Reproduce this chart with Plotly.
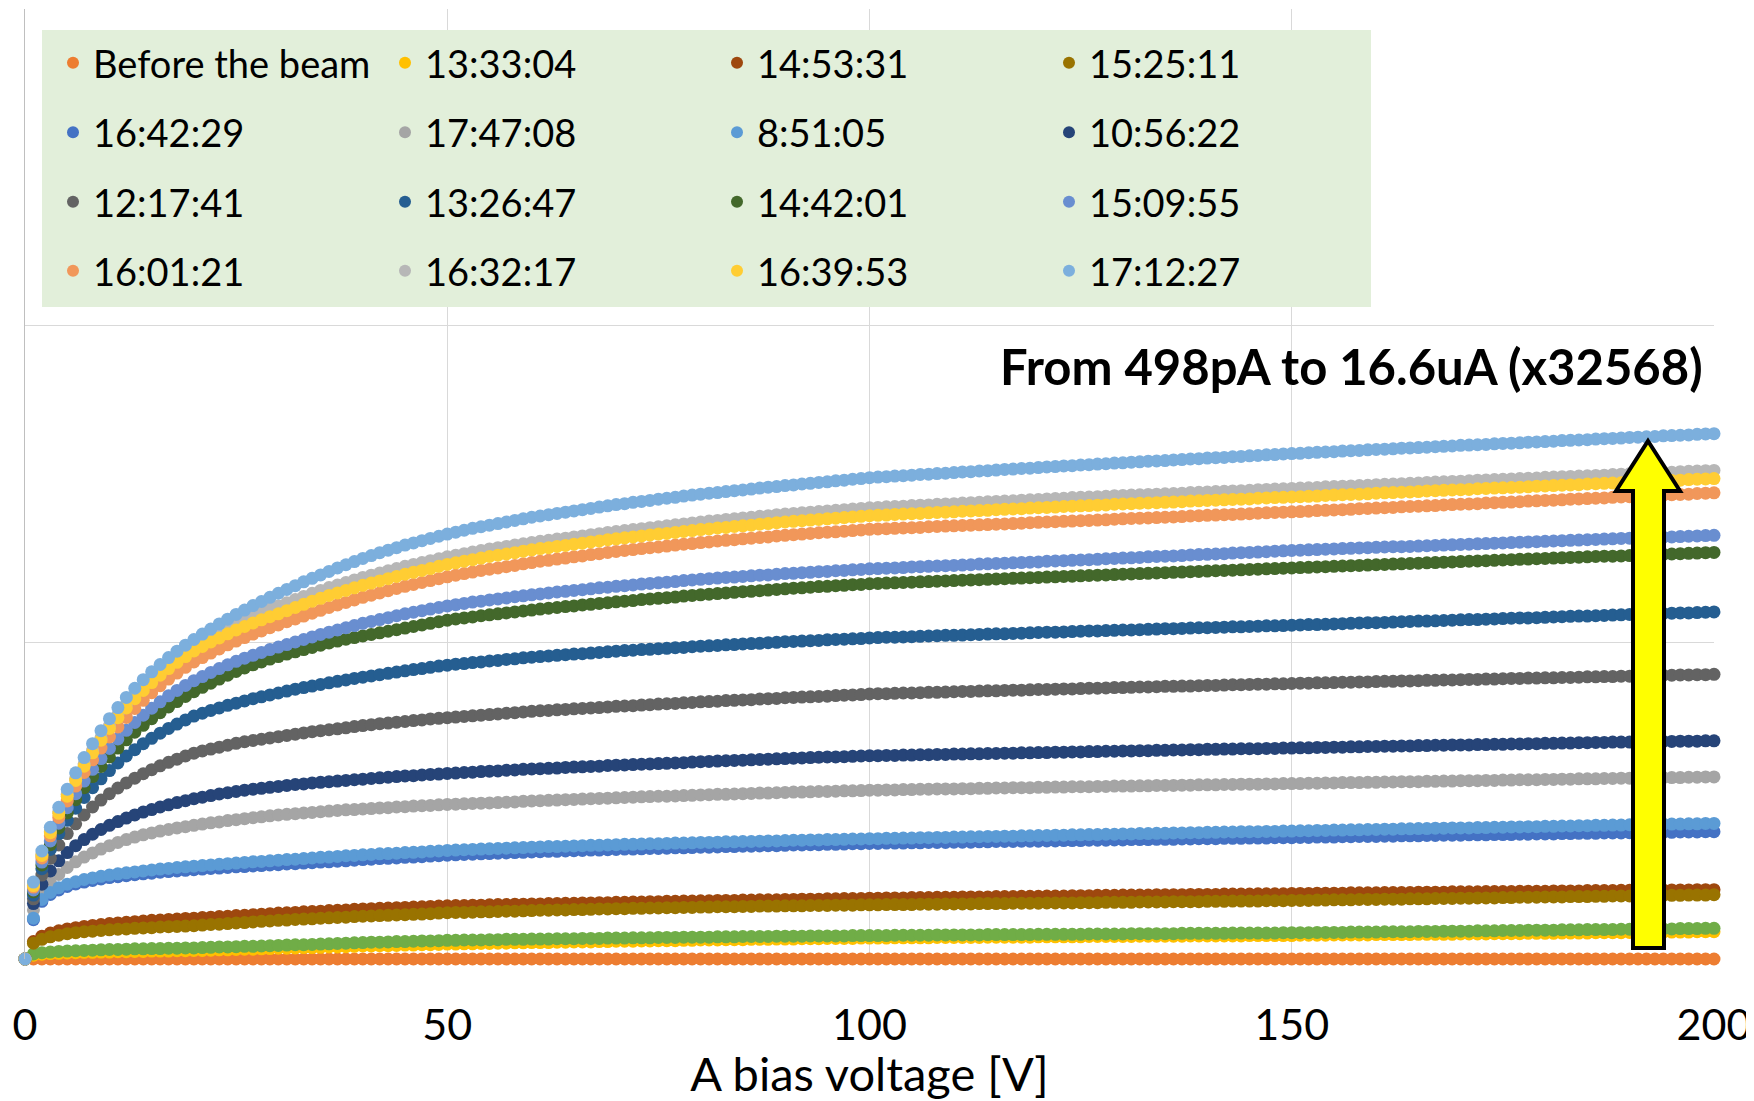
import plotly.graph_objects as go

# ---------------- data (current in uA, bias in V) ----------------
bias_voltage = list(range(0, 201))
x_ticks = [0, 50, 100, 150, 200]

i_before_beam = [0.0,
 0.0001,0.0001,0.0001,0.0001,0.0001,0.0001,0.0001,0.0001,0.0001,0.0001,0.0001,0.0001,0.0001,0.0001,0.0001,0.0001,0.0001,0.0001,0.0001,0.0001,0.0001,0.0001,0.0001,0.0001,0.0001,
 0.0002,0.0002,0.0002,0.0002,0.0002,0.0002,0.0002,0.0002,0.0002,0.0002,0.0002,0.0002,0.0002,0.0002,0.0002,0.0002,0.0002,0.0002,0.0002,0.0002,0.0002,0.0002,0.0002,0.0002,0.0002,
 0.0002,0.0002,0.0002,0.0002,0.0002,0.0002,0.0002,0.0002,0.0002,0.0002,0.0002,0.0002,0.0002,0.0002,0.0002,0.0002,0.0002,0.0002,0.0002,0.0002,0.0002,0.0002,0.0002,0.0002,0.0002,
 0.0003,0.0003,0.0003,0.0003,0.0003,0.0003,0.0003,0.0003,0.0003,0.0003,0.0003,0.0003,0.0003,0.0003,0.0003,0.0003,0.0003,0.0003,0.0003,0.0003,0.0003,0.0003,0.0003,0.0003,0.0003,
 0.0003,0.0003,0.0003,0.0003,0.0003,0.0003,0.0003,0.0003,0.0003,0.0003,0.0003,0.0003,0.0003,0.0003,0.0003,0.0003,0.0003,0.0003,0.0003,0.0003,0.0003,0.0003,0.0003,0.0003,0.0003,
 0.0004,0.0004,0.0004,0.0004,0.0004,0.0004,0.0004,0.0004,0.0004,0.0004,0.0004,0.0004,0.0004,0.0004,0.0004,0.0004,0.0004,0.0004,0.0004,0.0004,0.0004,0.0004,0.0004,0.0004,0.0004,
 0.0004,0.0004,0.0004,0.0004,0.0004,0.0004,0.0004,0.0004,0.0004,0.0004,0.0004,0.0004,0.0004,0.0004,0.0004,0.0004,0.0004,0.0004,0.0004,0.0004,0.0004,0.0004,0.0004,0.0004,0.0004,
 0.0005,0.0005,0.0005,0.0005,0.0005,0.0005,0.0005,0.0005,0.0005,0.0005,0.0005,0.0005,0.0005,0.0005,0.0005,0.0005,0.0005,0.0005,0.0005,0.0005,0.0005,0.0005,0.0005,0.0005,0.000498]

i_133304 = [0.0,
 0.12,0.15,0.17,0.18,0.19,0.20,0.21,0.21,0.22,0.22,0.23,0.23,0.24,0.24,0.25,0.25,0.25,0.26,0.26,0.27,
 0.27,0.28,0.29,0.29,0.30,0.31,0.31,0.32,0.33,0.34,
 0.34,0.35,0.36,0.36,0.37,0.38,0.38,0.39,0.40,0.41,
 0.41,0.42,0.42,0.43,0.44,0.44,0.45,0.45,0.46,0.47,
 0.47,0.48,0.48,0.49,0.49,0.50,0.50,0.51,0.51,0.52,
 0.52,0.52,0.53,0.53,0.54,0.54,0.54,0.55,0.55,0.56,
 0.56,0.56,0.57,0.57,0.58,0.58,0.58,0.59,0.59,0.60,
 0.60,0.60,0.61,0.61,0.61,0.62,0.62,0.62,0.63,0.63,
 0.63,0.64,0.64,0.64,0.65,0.65,0.65,0.65,0.66,0.66,
 0.66,0.66,0.67,0.67,0.67,0.67,0.67,0.68,0.68,0.68,0.68,0.68,0.68,0.69,0.69,0.69,0.69,0.69,0.69,0.70,0.70,0.70,0.70,0.70,0.70,
 0.71,0.71,0.71,0.71,0.71,0.71,0.72,0.72,0.72,0.72,0.72,0.72,0.73,0.73,0.73,0.73,0.73,0.73,0.73,0.74,0.74,0.74,0.74,0.74,0.74,
 0.75,0.75,0.75,0.75,0.76,0.76,0.76,0.76,0.76,0.77,0.77,0.77,0.77,0.77,0.78,0.78,0.78,0.78,0.78,0.79,0.79,0.79,0.79,0.80,0.80,
 0.80,0.80,0.81,0.81,0.81,0.81,0.82,0.82,0.82,0.82,0.83,0.83,0.83,0.83,0.84,0.84,0.84,0.84,0.85,0.85,0.85,0.85,0.86,0.86,0.86]

i_unlabelled_green = [0.0,
 0.16,0.20,0.22,0.24,0.25,0.26,0.27,0.28,0.29,0.30,0.30,0.31,0.32,0.32,0.33,0.33,0.34,0.34,0.35,0.35,
 0.36,0.37,0.38,0.38,0.39,0.40,0.40,0.41,0.42,0.43,
 0.44,0.45,0.45,0.46,0.47,0.48,0.49,0.50,0.51,0.52,
 0.53,0.53,0.54,0.55,0.55,0.56,0.57,0.57,0.58,0.59,
 0.59,0.60,0.60,0.60,0.61,0.61,0.62,0.62,0.62,0.63,
 0.63,0.63,0.64,0.64,0.64,0.65,0.65,0.65,0.66,0.66,
 0.66,0.67,0.67,0.67,0.68,0.68,0.68,0.69,0.69,0.69,
 0.69,0.70,0.70,0.70,0.71,0.71,0.71,0.71,0.72,0.72,
 0.72,0.72,0.73,0.73,0.73,0.73,0.73,0.74,0.74,0.74,
 0.74,0.74,0.75,0.75,0.75,0.75,0.75,0.76,0.76,0.76,0.76,0.76,0.76,0.77,0.77,0.77,0.77,0.77,0.77,0.78,0.78,0.78,0.78,0.78,0.78,
 0.79,0.79,0.79,0.79,0.79,0.80,0.80,0.80,0.80,0.80,0.80,0.81,0.81,0.81,0.81,0.81,0.81,0.82,0.82,0.82,0.82,0.82,0.82,0.83,0.83,
 0.83,0.83,0.84,0.84,0.84,0.84,0.85,0.85,0.85,0.85,0.86,0.86,0.86,0.86,0.87,0.87,0.87,0.88,0.88,0.88,0.88,0.89,0.89,0.89,0.90,
 0.90,0.90,0.91,0.91,0.91,0.91,0.92,0.92,0.92,0.93,0.93,0.93,0.93,0.94,0.94,0.94,0.95,0.95,0.95,0.95,0.96,0.96,0.96,0.97,0.97]

i_145331 = [0.0,
 0.55,0.72,0.82,0.89,0.95,0.99,1.03,1.06,1.09,1.12,1.14,1.16,1.18,1.20,1.22,1.23,1.25,1.26,1.28,1.29,
 1.31,1.32,1.34,1.35,1.37,1.38,1.40,1.41,1.43,1.45,
 1.46,1.47,1.49,1.50,1.51,1.53,1.54,1.55,1.57,1.58,
 1.59,1.60,1.61,1.62,1.63,1.64,1.65,1.66,1.67,1.68,
 1.69,1.69,1.70,1.70,1.71,1.72,1.72,1.73,1.73,1.74,
 1.74,1.75,1.75,1.76,1.76,1.77,1.77,1.78,1.78,1.79,
 1.79,1.80,1.80,1.81,1.81,1.82,1.82,1.83,1.83,1.84,
 1.84,1.85,1.85,1.85,1.86,1.86,1.87,1.87,1.87,1.88,
 1.88,1.89,1.89,1.89,1.90,1.90,1.91,1.91,1.91,1.92,
 1.92,1.93,1.93,1.93,1.94,1.94,1.94,1.95,1.95,1.95,1.96,1.96,1.96,1.96,1.97,1.97,1.97,1.98,1.98,1.98,1.99,1.99,1.99,2.00,2.00,
 2.00,2.01,2.01,2.01,2.02,2.02,2.02,2.02,2.03,2.03,2.03,2.03,2.04,2.04,2.04,2.04,2.05,2.05,2.05,2.05,2.06,2.06,2.06,2.06,2.07,
 2.07,2.07,2.08,2.08,2.08,2.08,2.09,2.09,2.09,2.09,2.10,2.10,2.10,2.10,2.11,2.11,2.11,2.11,2.12,2.12,2.12,2.12,2.13,2.13,2.13,
 2.13,2.14,2.14,2.14,2.14,2.15,2.15,2.15,2.15,2.16,2.16,2.16,2.16,2.17,2.17,2.17,2.17,2.17,2.18,2.18,2.18,2.18,2.19,2.19,2.19]

i_152511 = [0.0,
 0.50,0.62,0.70,0.75,0.80,0.83,0.86,0.88,0.90,0.92,0.94,0.95,0.97,0.98,0.99,1.01,1.02,1.03,1.04,1.05,
 1.07,1.09,1.10,1.12,1.14,1.15,1.17,1.19,1.20,1.22,
 1.23,1.25,1.26,1.27,1.29,1.30,1.31,1.32,1.34,1.35,
 1.36,1.37,1.38,1.39,1.40,1.41,1.42,1.43,1.45,1.46,
 1.47,1.47,1.48,1.49,1.49,1.50,1.51,1.51,1.52,1.53,
 1.54,1.54,1.55,1.55,1.56,1.56,1.57,1.58,1.58,1.59,
 1.59,1.60,1.60,1.61,1.61,1.62,1.62,1.63,1.63,1.64,
 1.64,1.65,1.65,1.65,1.66,1.66,1.67,1.67,1.67,1.68,
 1.68,1.68,1.69,1.69,1.69,1.70,1.70,1.70,1.71,1.71,
 1.71,1.72,1.72,1.72,1.72,1.73,1.73,1.73,1.74,1.74,1.74,1.74,1.75,1.75,1.75,1.75,1.76,1.76,1.76,1.76,1.77,1.77,1.77,1.77,1.78,
 1.78,1.78,1.79,1.79,1.79,1.79,1.80,1.80,1.80,1.80,1.81,1.81,1.81,1.81,1.82,1.82,1.82,1.83,1.83,1.83,1.83,1.84,1.84,1.84,1.85,
 1.85,1.85,1.86,1.86,1.87,1.87,1.87,1.88,1.88,1.88,1.89,1.89,1.89,1.90,1.90,1.90,1.91,1.91,1.91,1.92,1.92,1.93,1.93,1.93,1.94,
 1.94,1.95,1.95,1.95,1.96,1.96,1.96,1.97,1.97,1.97,1.98,1.98,1.99,1.99,1.99,2.00,2.00,2.00,2.01,2.01,2.01,2.02,2.02,2.02,2.03]

i_164229 = [0.0,
 1.24,1.82,2.04,2.18,2.29,2.37,2.43,2.48,2.53,2.57,2.60,2.63,2.66,2.69,2.71,2.74,2.76,2.78,2.80,2.82,
 2.84,2.86,2.87,2.89,2.91,2.92,2.94,2.95,2.97,2.98,
 3.00,3.01,3.03,3.04,3.06,3.07,3.09,3.10,3.12,3.14,
 3.15,3.17,3.18,3.19,3.21,3.22,3.23,3.25,3.26,3.28,
 3.29,3.30,3.31,3.32,3.33,3.34,3.35,3.36,3.37,3.38,
 3.39,3.40,3.40,3.41,3.42,3.43,3.44,3.44,3.45,3.46,
 3.47,3.47,3.48,3.49,3.49,3.50,3.51,3.51,3.52,3.53,
 3.53,3.54,3.55,3.55,3.56,3.56,3.57,3.58,3.58,3.59,
 3.60,3.60,3.61,3.61,3.62,3.62,3.63,3.64,3.64,3.65,
 3.65,3.66,3.66,3.66,3.67,3.67,3.68,3.68,3.68,3.69,3.69,3.69,3.70,3.70,3.71,3.71,3.71,3.72,3.72,3.72,3.73,3.73,3.74,3.74,3.74,
 3.75,3.75,3.75,3.76,3.76,3.77,3.77,3.77,3.78,3.78,3.78,3.79,3.79,3.80,3.80,3.80,3.81,3.81,3.81,3.82,3.82,3.82,3.83,3.83,3.83,
 3.84,3.84,3.85,3.85,3.85,3.86,3.86,3.87,3.87,3.87,3.88,3.88,3.89,3.89,3.89,3.90,3.90,3.91,3.91,3.91,3.92,3.92,3.92,3.93,3.93,
 3.93,3.94,3.94,3.95,3.95,3.95,3.96,3.96,3.97,3.97,3.97,3.98,3.98,3.98,3.99,3.99,3.99,4.00,4.00,4.00,4.01,4.01,4.01,4.02,4.02]

i_174708 = [0.0,
 1.55,2.05,2.40,2.67,2.89,3.07,3.22,3.35,3.47,3.58,3.68,3.77,3.85,3.92,3.98,4.04,4.09,4.14,4.18,4.22,
 4.26,4.30,4.33,4.37,4.40,4.43,4.46,4.49,4.52,4.55,
 4.57,4.59,4.61,4.63,4.65,4.67,4.69,4.71,4.72,4.74,
 4.75,4.77,4.78,4.80,4.81,4.83,4.84,4.85,4.87,4.88,
 4.89,4.90,4.91,4.92,4.93,4.94,4.95,4.96,4.98,4.99,
 5.00,5.01,5.02,5.03,5.04,5.05,5.06,5.07,5.08,5.09,
 5.10,5.11,5.12,5.13,5.14,5.14,5.15,5.16,5.17,5.18,
 5.19,5.20,5.20,5.21,5.22,5.23,5.24,5.24,5.25,5.26,
 5.27,5.27,5.28,5.29,5.29,5.30,5.31,5.31,5.32,5.33,
 5.33,5.34,5.34,5.35,5.35,5.36,5.36,5.37,5.37,5.37,5.38,5.38,5.39,5.39,5.40,5.40,5.41,5.41,5.41,5.42,5.42,5.43,5.43,5.44,5.44,
 5.44,5.45,5.45,5.46,5.46,5.46,5.47,5.47,5.48,5.48,5.48,5.49,5.49,5.50,5.50,5.50,5.51,5.51,5.52,5.52,5.52,5.53,5.53,5.54,5.54,
 5.54,5.55,5.55,5.56,5.56,5.57,5.57,5.57,5.58,5.58,5.59,5.59,5.60,5.60,5.60,5.61,5.61,5.62,5.62,5.63,5.63,5.63,5.64,5.64,5.65,
 5.65,5.66,5.66,5.66,5.67,5.67,5.68,5.68,5.69,5.69,5.69,5.70,5.70,5.71,5.71,5.71,5.72,5.72,5.73,5.73,5.73,5.74,5.74,5.75,5.75]

i_085105 = [0.0,
 1.29,1.88,2.10,2.25,2.36,2.44,2.51,2.56,2.61,2.65,2.69,2.72,2.75,2.78,2.81,2.84,2.86,2.89,2.91,2.93,
 2.95,2.97,2.99,3.01,3.03,3.05,3.07,3.08,3.10,3.12,
 3.14,3.15,3.17,3.19,3.21,3.22,3.24,3.26,3.27,3.29,
 3.30,3.32,3.33,3.34,3.36,3.37,3.38,3.40,3.41,3.43,
 3.44,3.45,3.46,3.47,3.48,3.49,3.50,3.51,3.52,3.53,
 3.54,3.55,3.55,3.56,3.57,3.58,3.59,3.59,3.60,3.61,
 3.62,3.62,3.63,3.64,3.64,3.65,3.66,3.66,3.67,3.68,
 3.68,3.69,3.70,3.70,3.71,3.71,3.72,3.73,3.73,3.74,
 3.75,3.75,3.76,3.76,3.77,3.77,3.78,3.79,3.79,3.80,
 3.80,3.81,3.81,3.82,3.82,3.83,3.83,3.84,3.84,3.85,3.85,3.86,3.86,3.87,3.87,3.88,3.88,3.89,3.89,3.90,3.90,3.91,3.91,3.92,3.92,
 3.93,3.93,3.94,3.94,3.95,3.95,3.96,3.96,3.97,3.97,3.98,3.98,3.99,3.99,4.00,4.00,4.01,4.01,4.02,4.02,4.02,4.03,4.03,4.04,4.04,
 4.05,4.05,4.06,4.06,4.07,4.07,4.08,4.08,4.09,4.09,4.10,4.10,4.11,4.11,4.12,4.12,4.13,4.13,4.14,4.14,4.14,4.15,4.15,4.16,4.16,
 4.17,4.17,4.18,4.18,4.19,4.19,4.20,4.20,4.21,4.21,4.22,4.22,4.23,4.23,4.24,4.24,4.25,4.25,4.26,4.26,4.26,4.27,4.27,4.28,4.28]

i_105622 = [0.0,
 1.75,2.36,2.78,3.10,3.36,3.58,3.77,3.94,4.09,4.22,4.34,4.45,4.55,4.64,4.72,4.80,4.87,4.94,5.00,5.06,
 5.11,5.16,5.21,5.25,5.29,5.33,5.36,5.39,5.42,5.45,
 5.48,5.51,5.53,5.56,5.58,5.60,5.62,5.64,5.66,5.68,
 5.70,5.72,5.74,5.76,5.78,5.79,5.81,5.83,5.84,5.86,
 5.87,5.89,5.90,5.92,5.93,5.94,5.96,5.97,5.99,6.00,
 6.01,6.02,6.03,6.05,6.06,6.07,6.08,6.09,6.11,6.12,
 6.13,6.14,6.15,6.16,6.17,6.18,6.19,6.20,6.22,6.23,
 6.24,6.25,6.26,6.27,6.28,6.29,6.30,6.31,6.32,6.33,
 6.34,6.35,6.36,6.37,6.38,6.38,6.39,6.40,6.41,6.42,
 6.42,6.43,6.43,6.44,6.44,6.45,6.45,6.46,6.46,6.47,6.47,6.48,6.48,6.49,6.49,6.50,6.50,6.51,6.51,6.52,6.52,6.53,6.53,6.54,6.54,
 6.55,6.55,6.56,6.56,6.57,6.57,6.58,6.58,6.59,6.59,6.60,6.60,6.61,6.61,6.62,6.62,6.63,6.63,6.64,6.64,6.64,6.65,6.65,6.66,6.66,
 6.67,6.67,6.68,6.68,6.69,6.69,6.70,6.70,6.71,6.71,6.72,6.72,6.73,6.73,6.74,6.74,6.75,6.75,6.76,6.76,6.76,6.77,6.77,6.78,6.78,
 6.79,6.79,6.80,6.80,6.81,6.81,6.82,6.82,6.83,6.83,6.84,6.84,6.85,6.85,6.85,6.86,6.86,6.87,6.87,6.87,6.88,6.88,6.88,6.89,6.89]

i_121741 = [0.0,
 1.90,2.65,3.18,3.60,3.96,4.27,4.55,4.80,5.02,5.22,5.40,5.56,5.71,5.85,5.98,6.10,6.21,6.31,6.41,6.50,
 6.57,6.63,6.69,6.75,6.81,6.86,6.90,6.94,6.98,7.02,
 7.06,7.10,7.14,7.18,7.21,7.24,7.27,7.30,7.34,7.37,
 7.40,7.43,7.45,7.48,7.50,7.53,7.55,7.58,7.60,7.62,
 7.64,7.66,7.68,7.70,7.72,7.74,7.76,7.78,7.80,7.82,
 7.84,7.85,7.87,7.88,7.90,7.91,7.93,7.94,7.96,7.98,
 7.99,8.00,8.02,8.03,8.05,8.06,8.07,8.09,8.10,8.12,
 8.13,8.14,8.16,8.17,8.18,8.19,8.21,8.22,8.23,8.25,
 8.26,8.27,8.28,8.29,8.30,8.32,8.33,8.34,8.35,8.37,
 8.38,8.38,8.39,8.40,8.40,8.41,8.42,8.42,8.43,8.44,8.45,8.45,8.46,8.47,8.47,8.48,8.49,8.49,8.50,8.51,8.51,8.52,8.53,8.53,8.54,
 8.55,8.55,8.56,8.57,8.57,8.58,8.59,8.59,8.60,8.61,8.61,8.62,8.62,8.63,8.64,8.64,8.65,8.66,8.66,8.67,8.68,8.68,8.69,8.69,8.70,
 8.71,8.71,8.72,8.72,8.73,8.74,8.74,8.75,8.75,8.76,8.77,8.77,8.78,8.78,8.79,8.80,8.80,8.81,8.81,8.82,8.83,8.83,8.84,8.84,8.85,
 8.86,8.86,8.87,8.87,8.88,8.88,8.89,8.89,8.90,8.91,8.91,8.92,8.92,8.93,8.93,8.94,8.95,8.95,8.96,8.96,8.97,8.97,8.98,8.98,8.99]

i_132647 = [0.0,
 2.02,2.85,3.46,3.96,4.38,4.76,5.10,5.41,5.69,5.95,6.19,6.41,6.61,6.80,6.97,7.13,7.28,7.42,7.55,7.67,
 7.76,7.85,7.93,8.01,8.08,8.15,8.22,8.28,8.34,8.40,
 8.46,8.52,8.57,8.62,8.67,8.72,8.77,8.81,8.86,8.90,
 8.94,8.98,9.02,9.06,9.10,9.14,9.17,9.21,9.25,9.28,
 9.31,9.33,9.36,9.38,9.41,9.43,9.46,9.48,9.51,9.53,
 9.55,9.57,9.59,9.61,9.63,9.64,9.66,9.68,9.70,9.72,
 9.74,9.75,9.77,9.78,9.80,9.81,9.83,9.84,9.86,9.88,
 9.89,9.90,9.92,9.93,9.95,9.96,9.97,9.99,10.00,10.02,
 10.03,10.04,10.05,10.06,10.08,10.09,10.10,10.11,10.12,10.14,
 10.15,10.16,10.16,10.17,10.18,10.19,10.20,10.21,10.22,10.22,10.23,10.24,10.25,10.26,10.27,10.27,10.28,10.29,10.30,10.31,10.32,10.32,10.33,10.34,10.35,
 10.36,10.36,10.37,10.38,10.39,10.39,10.40,10.41,10.42,10.43,10.43,10.44,10.45,10.46,10.46,10.47,10.48,10.49,10.49,10.50,10.51,10.52,10.52,10.53,10.54,
 10.55,10.56,10.56,10.57,10.58,10.59,10.60,10.61,10.62,10.62,10.63,10.64,10.65,10.66,10.67,10.67,10.68,10.69,10.70,10.71,10.72,10.72,10.73,10.74,10.75,
 10.76,10.77,10.77,10.78,10.79,10.80,10.81,10.82,10.83,10.83,10.84,10.85,10.86,10.87,10.88,10.88,10.89,10.90,10.91,10.92,10.93,10.93,10.94,10.95,10.96]

i_144201 = [0.0,
 2.12,2.97,3.61,4.14,4.61,5.03,5.41,5.76,6.08,6.38,6.66,6.92,7.16,7.38,7.59,7.78,7.96,8.13,8.29,8.44,
 8.58,8.71,8.84,8.96,9.08,9.19,9.29,9.38,9.47,9.55,
 9.63,9.70,9.77,9.84,9.91,9.98,10.04,10.10,10.15,10.20,
 10.25,10.30,10.35,10.40,10.45,10.50,10.55,10.60,10.65,10.70,
 10.74,10.77,10.80,10.84,10.87,10.90,10.93,10.96,10.99,11.02,
 11.05,11.08,11.10,11.13,11.15,11.18,11.20,11.23,11.25,11.28,
 11.30,11.32,11.35,11.37,11.39,11.41,11.43,11.46,11.48,11.50,
 11.52,11.54,11.56,11.58,11.60,11.61,11.63,11.65,11.67,11.69,
 11.71,11.72,11.74,11.76,11.77,11.79,11.80,11.82,11.83,11.85,
 11.86,11.87,11.88,11.89,11.90,11.91,11.92,11.93,11.94,11.95,11.96,11.97,11.98,11.99,12.00,12.01,12.02,12.03,12.04,12.05,12.06,12.07,12.08,12.09,12.10,
 12.11,12.12,12.13,12.14,12.15,12.16,12.17,12.18,12.19,12.20,12.21,12.22,12.23,12.24,12.25,12.26,12.27,12.28,12.29,12.30,12.31,12.32,12.33,12.34,12.35,
 12.36,12.37,12.38,12.39,12.40,12.41,12.42,12.43,12.44,12.45,12.46,12.47,12.48,12.49,12.50,12.51,12.52,12.53,12.54,12.55,12.56,12.57,12.58,12.59,12.60,
 12.61,12.62,12.63,12.64,12.65,12.66,12.67,12.68,12.69,12.70,12.71,12.72,12.72,12.73,12.74,12.75,12.76,12.77,12.78,12.79,12.80,12.81,12.82,12.83,12.84]

i_150955 = [0.0,
 2.18,3.06,3.73,4.29,4.78,5.22,5.62,5.99,6.33,6.65,6.95,7.22,7.47,7.70,7.92,8.12,8.31,8.48,8.64,8.79,
 8.92,9.05,9.17,9.29,9.40,9.50,9.59,9.68,9.77,9.85,
 9.93,10.01,10.09,10.17,10.25,10.32,10.39,10.46,10.53,10.60,
 10.66,10.72,10.78,10.84,10.90,10.95,11.00,11.05,11.10,11.15,
 11.19,11.23,11.27,11.30,11.34,11.37,11.40,11.44,11.47,11.50,
 11.53,11.56,11.59,11.61,11.64,11.66,11.69,11.72,11.74,11.77,
 11.79,11.81,11.84,11.86,11.88,11.90,11.92,11.95,11.97,11.99,
 12.01,12.03,12.05,12.06,12.08,12.10,12.12,12.13,12.15,12.17,
 12.18,12.20,12.21,12.23,12.24,12.26,12.27,12.29,12.30,12.32,
 12.33,12.34,12.35,12.36,12.38,12.39,12.40,12.41,12.42,12.43,12.44,12.45,12.47,12.48,12.49,12.50,12.51,12.52,12.53,12.54,12.56,12.57,12.58,12.59,12.60,
 12.61,12.62,12.64,12.65,12.66,12.67,12.68,12.70,12.71,12.72,12.73,12.74,12.76,12.77,12.78,12.79,12.80,12.82,12.83,12.84,12.85,12.86,12.88,12.89,12.90,
 12.91,12.92,12.93,12.94,12.95,12.96,12.97,12.98,12.99,13.00,13.01,13.02,13.02,13.03,13.04,13.05,13.06,13.07,13.08,13.09,13.10,13.11,13.12,13.13,13.14,
 13.15,13.16,13.17,13.18,13.19,13.20,13.21,13.22,13.23,13.24,13.25,13.26,13.27,13.28,13.29,13.29,13.30,13.31,13.32,13.33,13.34,13.35,13.36,13.37,13.38]

i_160121 = [0.0,
 2.27,3.19,3.89,4.47,4.99,5.46,5.89,6.29,6.66,7.01,7.33,7.63,7.91,8.17,8.41,8.63,8.84,9.03,9.21,9.38,
 9.52,9.66,9.79,9.92,10.04,10.15,10.26,10.36,10.46,10.55,
 10.65,10.74,10.83,10.92,11.01,11.10,11.18,11.26,11.34,11.42,
 11.49,11.56,11.63,11.70,11.77,11.83,11.89,11.95,12.01,12.07,
 12.12,12.17,12.22,12.27,12.31,12.35,12.39,12.43,12.48,12.52,
 12.56,12.59,12.63,12.66,12.70,12.73,12.77,12.80,12.84,12.87,
 12.90,12.93,12.96,12.99,13.01,13.04,13.07,13.10,13.12,13.15,
 13.17,13.20,13.22,13.24,13.27,13.29,13.31,13.33,13.36,13.38,
 13.40,13.42,13.44,13.46,13.48,13.49,13.51,13.53,13.55,13.57,
 13.58,13.59,13.60,13.61,13.62,13.63,13.65,13.66,13.67,13.68,13.69,13.70,13.71,13.72,13.73,13.74,13.75,13.76,13.78,13.79,13.80,13.81,13.82,13.83,13.84,
 13.85,13.86,13.87,13.89,13.90,13.91,13.92,13.93,13.94,13.95,13.96,13.97,13.99,14.00,14.01,14.02,14.03,14.04,14.05,14.06,14.08,14.09,14.10,14.11,14.12,
 14.13,14.14,14.16,14.17,14.18,14.19,14.20,14.22,14.23,14.24,14.25,14.26,14.28,14.29,14.30,14.31,14.32,14.34,14.35,14.36,14.37,14.38,14.40,14.41,14.42,
 14.43,14.44,14.46,14.47,14.48,14.49,14.50,14.52,14.53,14.54,14.55,14.56,14.58,14.59,14.60,14.61,14.62,14.64,14.65,14.66,14.67,14.68,14.70,14.71,14.72]

i_163217 = [0.0,
 2.34,3.30,4.03,4.65,5.20,5.70,6.16,6.59,6.99,7.37,7.72,8.04,8.34,8.61,8.87,9.11,9.33,9.54,9.73,9.92,
 10.06,10.20,10.34,10.47,10.60,10.72,10.84,10.95,11.05,11.15,
 11.25,11.35,11.45,11.55,11.64,11.73,11.81,11.89,11.97,12.05,
 12.12,12.19,12.26,12.33,12.40,12.46,12.52,12.58,12.64,12.70,
 12.75,12.80,12.85,12.90,12.95,12.99,13.03,13.07,13.11,13.15,
 13.19,13.22,13.26,13.29,13.33,13.36,13.40,13.43,13.47,13.50,
 13.53,13.56,13.59,13.62,13.65,13.68,13.71,13.74,13.77,13.80,
 13.83,13.85,13.88,13.90,13.93,13.95,13.98,14.00,14.03,14.05,
 14.07,14.09,14.11,14.13,14.15,14.17,14.19,14.21,14.23,14.25,
 14.26,14.28,14.29,14.30,14.32,14.33,14.34,14.36,14.37,14.38,14.40,14.41,14.42,14.44,14.45,14.46,14.47,14.49,14.50,14.51,14.53,14.54,14.55,14.57,14.58,
 14.59,14.60,14.61,14.63,14.64,14.65,14.66,14.67,14.68,14.69,14.70,14.71,14.73,14.74,14.75,14.76,14.77,14.78,14.79,14.80,14.82,14.83,14.84,14.85,14.86,
 14.87,14.88,14.89,14.91,14.92,14.93,14.94,14.95,14.96,14.98,14.99,15.00,15.01,15.02,15.03,15.05,15.06,15.07,15.08,15.09,15.10,15.12,15.13,15.14,15.15,
 15.16,15.17,15.18,15.19,15.21,15.22,15.23,15.24,15.25,15.26,15.27,15.28,15.30,15.31,15.32,15.33,15.34,15.35,15.36,15.37,15.39,15.40,15.41,15.42,15.43]

i_163953 = [0.0,
 2.32,3.27,3.99,4.60,5.14,5.64,6.09,6.51,6.91,7.28,7.62,7.93,8.22,8.48,8.73,8.96,9.17,9.37,9.55,9.73,
 9.87,10.01,10.14,10.27,10.39,10.50,10.61,10.71,10.81,10.90,
 11.00,11.10,11.20,11.30,11.39,11.48,11.56,11.64,11.72,11.80,
 11.87,11.94,12.01,12.08,12.15,12.21,12.27,12.33,12.40,12.46,
 12.51,12.56,12.61,12.66,12.71,12.75,12.79,12.83,12.88,12.92,
 12.96,12.99,13.03,13.06,13.10,13.13,13.17,13.20,13.24,13.27,
 13.30,13.33,13.36,13.39,13.42,13.44,13.47,13.50,13.53,13.56,
 13.58,13.61,13.63,13.66,13.68,13.70,13.73,13.75,13.78,13.80,
 13.82,13.84,13.86,13.88,13.90,13.92,13.94,13.96,13.98,14.00,
 14.01,14.02,14.04,14.05,14.06,14.07,14.09,14.10,14.11,14.12,14.14,14.15,14.16,14.17,14.19,14.20,14.21,14.22,14.24,14.25,14.26,14.27,14.29,14.30,14.31,
 14.32,14.33,14.34,14.36,14.37,14.38,14.39,14.40,14.41,14.42,14.43,14.44,14.46,14.47,14.48,14.49,14.50,14.51,14.52,14.53,14.55,14.56,14.57,14.58,14.59,
 14.60,14.61,14.62,14.64,14.65,14.66,14.67,14.68,14.69,14.71,14.72,14.73,14.74,14.75,14.76,14.78,14.79,14.80,14.81,14.82,14.83,14.85,14.86,14.87,14.88,
 14.89,14.90,14.91,14.93,14.94,14.95,14.96,14.97,14.98,15.00,15.01,15.02,15.03,15.04,15.05,15.07,15.08,15.09,15.10,15.11,15.12,15.14,15.15,15.16,15.17]

i_171227 = [0.0,
 2.43,3.41,4.16,4.79,5.36,5.88,6.36,6.80,7.21,7.59,7.94,8.26,8.55,8.82,9.07,9.30,9.52,9.72,9.91,10.09,
 10.26,10.42,10.58,10.73,10.88,11.02,11.16,11.29,11.42,11.55,
 11.67,11.79,11.91,12.02,12.13,12.24,12.35,12.45,12.55,12.65,
 12.74,12.83,12.91,12.99,13.07,13.14,13.21,13.28,13.35,13.42,
 13.48,13.54,13.60,13.65,13.70,13.75,13.80,13.85,13.90,13.95,
 13.99,14.03,14.07,14.11,14.15,14.19,14.23,14.27,14.31,14.35,
 14.38,14.42,14.45,14.48,14.52,14.55,14.58,14.62,14.65,14.68,
 14.71,14.73,14.76,14.79,14.81,14.84,14.87,14.90,14.92,14.95,
 14.97,15.00,15.02,15.05,15.07,15.10,15.12,15.15,15.17,15.20,
 15.22,15.23,15.25,15.26,15.28,15.30,15.31,15.33,15.34,15.36,15.38,15.39,15.41,15.42,15.44,15.46,15.47,15.49,15.50,15.52,15.54,15.55,15.57,15.58,15.60,
 15.61,15.63,15.64,15.66,15.67,15.69,15.70,15.72,15.73,15.74,15.76,15.77,15.79,15.80,15.82,15.83,15.84,15.86,15.87,15.89,15.90,15.92,15.93,15.95,15.96,
 15.97,15.99,16.00,16.01,16.02,16.04,16.05,16.06,16.08,16.09,16.10,16.11,16.13,16.14,16.15,16.16,16.18,16.19,16.20,16.22,16.23,16.24,16.25,16.27,16.28,
 16.29,16.30,16.32,16.33,16.34,16.35,16.37,16.38,16.39,16.40,16.42,16.43,16.44,16.45,16.47,16.48,16.49,16.50,16.52,16.53,16.54,16.55,16.57,16.58,16.59]

# name, values, colour, legend (row) -- drawing order as in the source chart
series = [
    ("Before the beam", i_before_beam, "#ED7D31", "legend"),
    ("13:33:04", i_133304, "#FFC000", "legend"),
    (None, i_unlabelled_green, "#70AD47", None),
    ("14:53:31", i_145331, "#9E480E", "legend"),
    ("15:25:11", i_152511, "#997300", "legend"),
    ("16:42:29", i_164229, "#4472C4", "legend2"),
    ("17:47:08", i_174708, "#A5A5A5", "legend2"),
    ("8:51:05", i_085105, "#5B9BD5", "legend2"),
    ("10:56:22", i_105622, "#264478", "legend2"),
    ("12:17:41", i_121741, "#636363", "legend3"),
    ("13:26:47", i_132647, "#255E91", "legend3"),
    ("14:42:01", i_144201, "#43682B", "legend3"),
    ("15:09:55", i_150955, "#698ED0", "legend3"),
    ("16:01:21", i_160121, "#F1975A", "legend4"),
    ("16:32:17", i_163217, "#B7B7B7", "legend4"),
    ("16:39:53", i_163953, "#FFCD33", "legend4"),
    ("17:12:27", i_171227, "#7CAFDD", "legend4"),
]
for nm, vals, _, _ in series:
    assert len(vals) == len(bias_voltage), (nm, len(vals))

# ---------------- geometry ----------------
# the page body adds an 8 px offset, so the figure is 8 px smaller and
# all positions below are given in page pixels and shifted back by OFF
OFF = 8
W, H = 1754 - OFF, 1101 - OFF
ML, MT = 17, 1
PLOT_R, PLOT_B = 1706, 951           # figure px
MR, MB = W - PLOT_R, H - PLOT_B
PW, PH = PLOT_R - ML, PLOT_B - MT


def px2x(px):
    return (px - OFF - ML) / PW


def py2y(py):
    return (PLOT_B - (py - OFF)) / PH


FONT = "Lato"

fig = go.Figure()
for nm, vals, col, leg in series:
    kw = dict(showlegend=False) if nm is None else dict(name=nm, legend=leg)
    fig.add_trace(go.Scatter(
        x=bias_voltage, y=vals, mode="markers",
        marker=dict(size=13, color=col, line=dict(width=0)),
        cliponaxis=False, **kw))

# legend background box
fig.add_shape(type="rect", xref="paper", yref="paper",
              x0=px2x(42), x1=px2x(1371), y0=py2y(307), y1=py2y(30),
              fillcolor="#E2EFDA", line=dict(width=0), layer="above")

# yellow block arrow
arrow_pts = [(1648, 441), (1680, 491), (1664, 491), (1664, 948),
             (1633, 948), (1633, 491), (1616, 491)]
path = "M " + " L ".join(f"{px2x(a):.5f},{py2y(b):.5f}" for a, b in arrow_pts) + " Z"
fig.add_shape(type="path", xref="paper", yref="paper", path=path,
              fillcolor="#FFFF00", line=dict(color="black", width=4), layer="above")

fig.add_annotation(xref="paper", yref="paper", x=px2x(1705), y=py2y(366),
                   xanchor="right", yanchor="middle", showarrow=False,
                   text="<b>From 498pA to 16.6uA (x32568)</b>",
                   font=dict(family=FONT, size=49, color="black"))

legend_rows = {"legend": 63, "legend2": 132.5, "legend3": 202, "legend4": 271}
legend_common = dict(orientation="h", xref="paper", yref="paper", xanchor="left",
                     yanchor="middle", entrywidth=287, entrywidthmode="pixels",
                     bgcolor="rgba(0,0,0,0)", borderwidth=0,
                     font=dict(family=FONT, size=38, color="black"),
                     itemsizing="constant", tracegroupgap=0)
legend_layout = {k: dict(x=px2x(53), y=py2y(v), **legend_common)
                 for k, v in legend_rows.items()}

fig.update_layout(
    width=W, height=H,
    margin=dict(l=ML, r=MR, t=MT, b=MB, autoexpand=False),
    paper_bgcolor="white", plot_bgcolor="white",
    font=dict(family=FONT, color="black"),
    showlegend=True,
    xaxis=dict(range=[0, 200], tickvals=x_ticks, ticktext=[str(t) for t in x_ticks],
               showgrid=True, gridcolor="#D9D9D9", gridwidth=1, zeroline=False,
               showline=False, ticks="", ticklabelstandoff=37,
               tickfont=dict(family=FONT, size=43, color="black"),
               title=dict(text="A bias voltage [V]", standoff=21,
                          font=dict(family=FONT, size=47, color="black")),
               automargin=False),
    yaxis=dict(range=[0, 30], dtick=10, showticklabels=False, showgrid=True,
               gridcolor="#D9D9D9", gridwidth=1, zeroline=False, showline=True,
               linecolor="#BFBFBF", linewidth=1, ticks="", automargin=False),
    **legend_layout,
)

fig.write_html("out.html")
